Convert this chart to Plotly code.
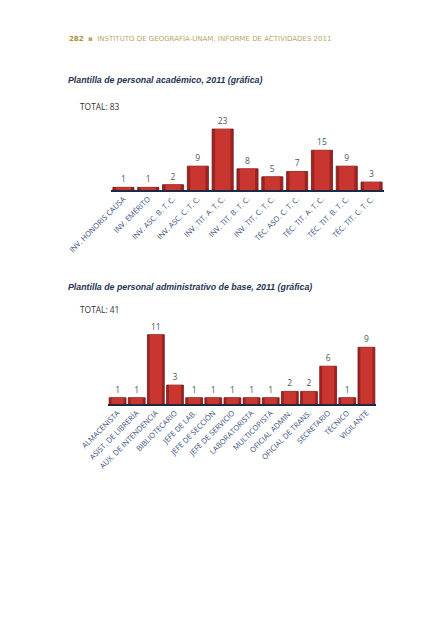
import plotly.graph_objects as go

# page offset: browser body margin is 8px
OFF = 8
W, H = 445 - OFF, 640 - OFF

acad_cats = ["INV. HONORIS CAUSA", "INV. EMÉRITO", "INV. ASC. B. T. C.", "INV. ASC. C. T. C.",
             "INV. TIT. A. T. C.", "INV. TIT. B. T. C.", "INV. TIT. C. T. C.", "TÉC. ASO. C. T. C.",
             "TÉC. TIT. A. T. C.", "TÉC. TIT. B. T. C.", "TÉC. TIT. C. T. C."]
acad_vals = [1, 1, 2, 9, 23, 8, 5, 7, 15, 9, 3]

adm_cats = ["ALMACENISTA", "ASIST. DE LIBRERÍA", "AUX. DE INTENDENCIA", "BIBLIOTECARIO",
            "JEFE DE LAB.", "JEFE DE SECCIÓN", "JEFE DE SERVICIO", "LABORATORISTA",
            "MULTICOPISTA", "OFICIAL ADMIN.", "OFICIAL DE TRANS.", "SECRETARIO",
            "TÉCNICO", "VIGILANTE"]
adm_vals = [1, 1, 11, 3, 1, 1, 1, 1, 1, 2, 2, 6, 1, 9]


def px_x(p):
    return (p - OFF) / W


def px_y(p):
    return 1 - (p - OFF) / H


BAR_DARK = "#9e2424"
BAR = "#c9352f"
EDGE = "#6e1818"
TICK = "#3b4f7a"
VALF = dict(family="Open Sans", size=8.5, color="#555555")

fig = go.Figure()
for cats, vals, xa, ya, w in [(acad_cats, acad_vals, "x", "y", 0.85),
                              (adm_cats, adm_vals, "x2", "y2", 0.88)]:
    fig.add_trace(go.Bar(x=cats, y=vals, xaxis=xa, yaxis=ya,
                         marker=dict(color=BAR_DARK, line=dict(color=EDGE, width=0.8)),
                         text=vals, textposition="outside", cliponaxis=False,
                         textfont=VALF, width=w, showlegend=False, hoverinfo="skip"))
    fig.add_trace(go.Bar(x=cats, y=vals, xaxis=xa, yaxis=ya,
                         marker=dict(color=BAR, line=dict(width=0)),
                         width=w * 0.72, showlegend=False))

b1, s1 = 190, 2.65
b2, s2 = 404, 6.3
axis_common = dict(tickangle=-45, tickfont=dict(family="Open Sans", size=7.5, color=TICK),
                   showline=True, linecolor="#1e2a44", linewidth=1.5, ticks="",
                   showgrid=False, automargin=False)
fig.update_layout(
    width=W, height=H, margin=dict(l=0, r=0, t=0, b=0, autoexpand=False),
    barmode="overlay",
    paper_bgcolor="white", plot_bgcolor="rgba(0,0,0,0)",
    xaxis=dict(domain=[px_x(111), px_x(384)], anchor="y", range=[-0.5, 10.5], **axis_common),
    yaxis=dict(domain=[px_y(b1), px_y(b1 - 25 * s1)], anchor="x", range=[0, 25],
               visible=False, showgrid=False, automargin=False),
    xaxis2=dict(domain=[px_x(108), px_x(376)], anchor="y2", range=[-0.5, 13.5], **axis_common),
    yaxis2=dict(domain=[px_y(b2), px_y(b2 - 12 * s2)], anchor="x2", range=[0, 12],
                visible=False, showgrid=False, automargin=False),
    annotations=[
        dict(x=px_x(67), y=px_y(38), xref="paper", yref="paper", xanchor="left", yanchor="middle",
             showarrow=False,
             text="<b><span style='color:#a88f3c'>282</span></b>"
                  "<span style='color:#b9a66a'>  ▪  INSTITUTO DE GEOGRAFÍA-UNAM, INFORME DE ACTIVIDADES 2011</span>",
             font=dict(family="DejaVu Sans", size=7.0)),
        dict(x=px_x(66), y=px_y(80), xref="paper", yref="paper", xanchor="left", yanchor="middle",
             showarrow=False, text="<b><i>Plantilla de personal académico, 2011 (gráfica)</i></b>",
             font=dict(family="Liberation Sans", size=8.8, color="#1f3352")),
        dict(x=px_x(78), y=px_y(107), xref="paper", yref="paper", xanchor="left", yanchor="middle",
             showarrow=False, text="TOTAL: 83",
             font=dict(family="Open Sans", size=8.4, color="#333333")),
        dict(x=px_x(66), y=px_y(287), xref="paper", yref="paper", xanchor="left", yanchor="middle",
             showarrow=False, text="<b><i>Plantilla de personal administrativo de base, 2011 (gráfica)</i></b>",
             font=dict(family="Liberation Sans", size=8.8, color="#1f3352")),
        dict(x=px_x(78), y=px_y(309), xref="paper", yref="paper", xanchor="left", yanchor="middle",
             showarrow=False, text="TOTAL: 41",
             font=dict(family="Open Sans", size=8.4, color="#333333")),
    ],
)

fig.write_html("out.html")
